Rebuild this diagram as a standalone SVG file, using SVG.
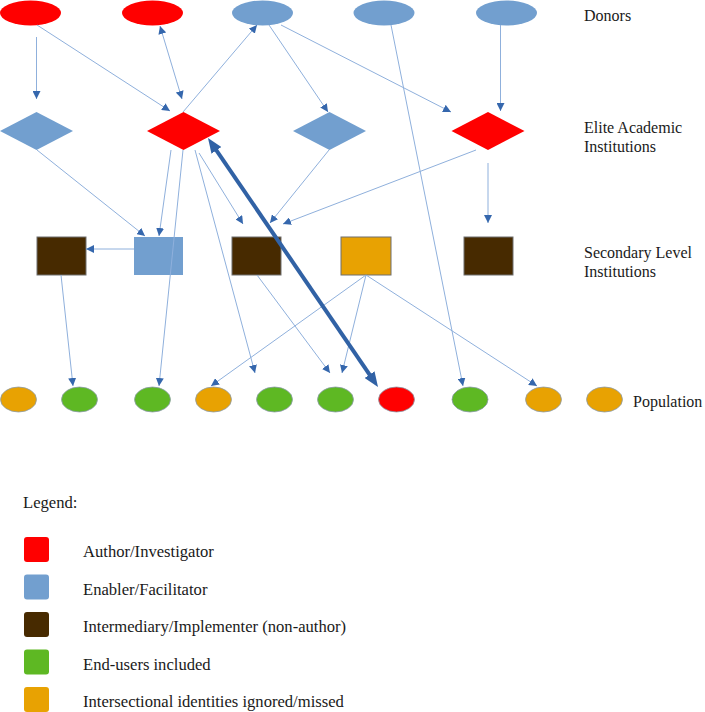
<svg xmlns="http://www.w3.org/2000/svg" width="705" height="712" viewBox="0 0 705 712">
<style>
.t{font-family:"Liberation Serif","Times New Roman",serif;font-size:16px;fill:#1a1a1a}
.lg{font-size:16.6px}
.red{fill:#ff0000}
.blue{fill:#729fcf}
.brown{fill:#472a00}
.green{fill:#5eb823}
.orange{fill:#e8a202}
.rs{stroke:#6f6f6f;stroke-width:1}
.ps{stroke:#8a9aaa;stroke-width:0.8}
.c{stroke:#8fb0dc;stroke-width:1;fill:none;marker-end:url(#a)}
.cb{stroke:#8fb0dc;stroke-width:1;fill:none;marker-start:url(#a);marker-end:url(#a)}
.th{stroke:#3162a5;stroke-width:4;fill:none;marker-start:url(#tk);marker-end:url(#tk)}
</style>
<defs>
<marker id="a" viewBox="0 0 10 10" refX="10" refY="5" markerWidth="8" markerHeight="8" markerUnits="userSpaceOnUse" orient="auto-start-reverse"><path d="M0,0 L10,5 L0,10 z" fill="#3567ad"/></marker>
<marker id="tk" viewBox="0 0 15 12" refX="7" refY="6" markerWidth="15" markerHeight="12" markerUnits="userSpaceOnUse" orient="auto-start-reverse"><path d="M0,0 L15,6 L0,12 z" fill="#3162a5"/></marker>
</defs>
<rect width="705" height="712" fill="#ffffff"/>

<g id="donors">
<ellipse id="d1" class="red" cx="30.5" cy="13" rx="30.5" ry="12.5"/>
<ellipse id="d2" class="red" cx="152.5" cy="13" rx="30.5" ry="12.5"/>
<ellipse id="d3" class="blue" cx="262.5" cy="13" rx="30.5" ry="12.5"/>
<ellipse id="d4" class="blue" cx="384" cy="13" rx="30.5" ry="12.5"/>
<ellipse id="d5" class="blue" cx="506.5" cy="13" rx="30.5" ry="12.5"/>
</g>
<g id="elite">
<polygon id="e1" class="blue" points="0,131 36.5,112 73,131 36.5,150"/>
<polygon id="e2" class="red" points="147,131 183.5,112 220,131 183.5,150"/>
<polygon id="e3" class="blue" points="293,131 329.5,112 366,131 329.5,150"/>
<polygon id="e4" class="red" points="451.5,131 488,112 524.5,131 488,150"/>
</g>
<g id="secondary">
<rect id="s1" class="brown rs" x="37" y="237" width="49" height="38"/>
<rect id="s2" class="blue" x="134" y="237" width="49" height="38"/>
<rect id="s3" class="brown rs" x="232" y="237" width="49" height="38"/>
<rect id="s4" class="orange rs" x="341" y="237" width="50" height="38"/>
<rect id="s5" class="brown rs" x="464" y="237" width="49" height="38"/>
</g>
<g id="population">
<ellipse id="p1" class="orange ps" cx="18.5" cy="399.5" rx="18" ry="12.5"/>
<ellipse id="p2" class="green ps" cx="79.5" cy="399.5" rx="18" ry="12.5"/>
<ellipse id="p3" class="green ps" cx="152.5" cy="399.5" rx="18" ry="12.5"/>
<ellipse id="p4" class="orange ps" cx="213.5" cy="399.5" rx="18" ry="12.5"/>
<ellipse id="p5" class="green ps" cx="274.5" cy="399.5" rx="18" ry="12.5"/>
<ellipse id="p6" class="green ps" cx="335.5" cy="399.5" rx="18" ry="12.5"/>
<ellipse id="p7" class="red ps" cx="396.5" cy="399.5" rx="18" ry="12.5"/>
<ellipse id="p8" class="green ps" cx="470" cy="399.5" rx="18" ry="12.5"/>
<ellipse id="p9" class="orange ps" cx="543.5" cy="399.5" rx="18" ry="12.5"/>
<ellipse id="p10" class="orange ps" cx="604.5" cy="399.5" rx="18" ry="12.5"/>
</g>

<g id="connectors">
<line class="c" x1="36.5" y1="37" x2="36.5" y2="99"/>
<line class="c" x1="37" y1="25" x2="170" y2="111"/>
<line class="cb" x1="160" y1="26" x2="182" y2="99"/>
<line class="c" x1="183" y1="112" x2="257" y2="25"/>
<line class="c" x1="269" y1="25" x2="328" y2="112"/>
<line class="c" x1="281" y1="25" x2="451" y2="112"/>
<line class="c" x1="391" y1="25" x2="463" y2="386"/>
<line class="c" x1="500.5" y1="25" x2="500.5" y2="111"/>
<line class="c" x1="37" y1="150" x2="145" y2="236"/>
<line class="c" x1="171" y1="150" x2="159" y2="236"/>
<line class="c" x1="183" y1="150" x2="159" y2="386"/>
<line class="c" x1="195" y1="150" x2="255" y2="373"/>
<line class="c" x1="199" y1="153" x2="243" y2="224"/>
<line class="c" x1="329" y1="150" x2="270" y2="223"/>
<line class="c" x1="476" y1="150" x2="283" y2="224"/>
<line class="c" x1="488" y1="163" x2="488" y2="223"/>
<line class="c" x1="134" y1="249" x2="86" y2="249"/>
<line class="c" x1="61" y1="275" x2="73" y2="386"/>
<line class="c" x1="257" y1="275" x2="330" y2="373"/>
<line class="c" x1="366" y1="275" x2="211" y2="386"/>
<line class="c" x1="366" y1="275" x2="342" y2="373"/>
<line class="c" x1="366" y1="275" x2="537" y2="386"/>
<line class="th" x1="212.5" y1="144.6" x2="373.5" y2="380.4"/>
</g>

<g id="labels">
<text class="t" x="584" y="21">Donors</text>
<text class="t" x="584" y="133">Elite Academic</text>
<text class="t" x="584" y="152">Institutions</text>
<text class="t" x="584" y="258">Secondary Level</text>
<text class="t" x="584" y="277">Institutions</text>
<text class="t" x="633" y="407">Population</text>
</g>

<g id="legend">
<text class="t lg" x="23" y="508">Legend:</text>
<rect class="red" x="24" y="537" width="25" height="25" rx="3"/>
<text class="t lg" x="83" y="557">Author/Investigator</text>
<rect class="blue" x="24" y="574.5" width="25" height="25" rx="3"/>
<text class="t lg" x="83" y="594.5">Enabler/Facilitator</text>
<rect class="brown" x="24" y="612" width="25" height="25" rx="3"/>
<text class="t lg" x="83" y="632">Intermediary/Implementer (non-author)</text>
<rect class="green" x="24" y="649.5" width="25" height="25" rx="3"/>
<text class="t lg" x="83" y="669.5">End-users included</text>
<rect class="orange" x="24" y="687" width="25" height="25" rx="3"/>
<text class="t lg" x="83" y="707">Intersectional identities ignored/missed</text>
</g>
</svg>
